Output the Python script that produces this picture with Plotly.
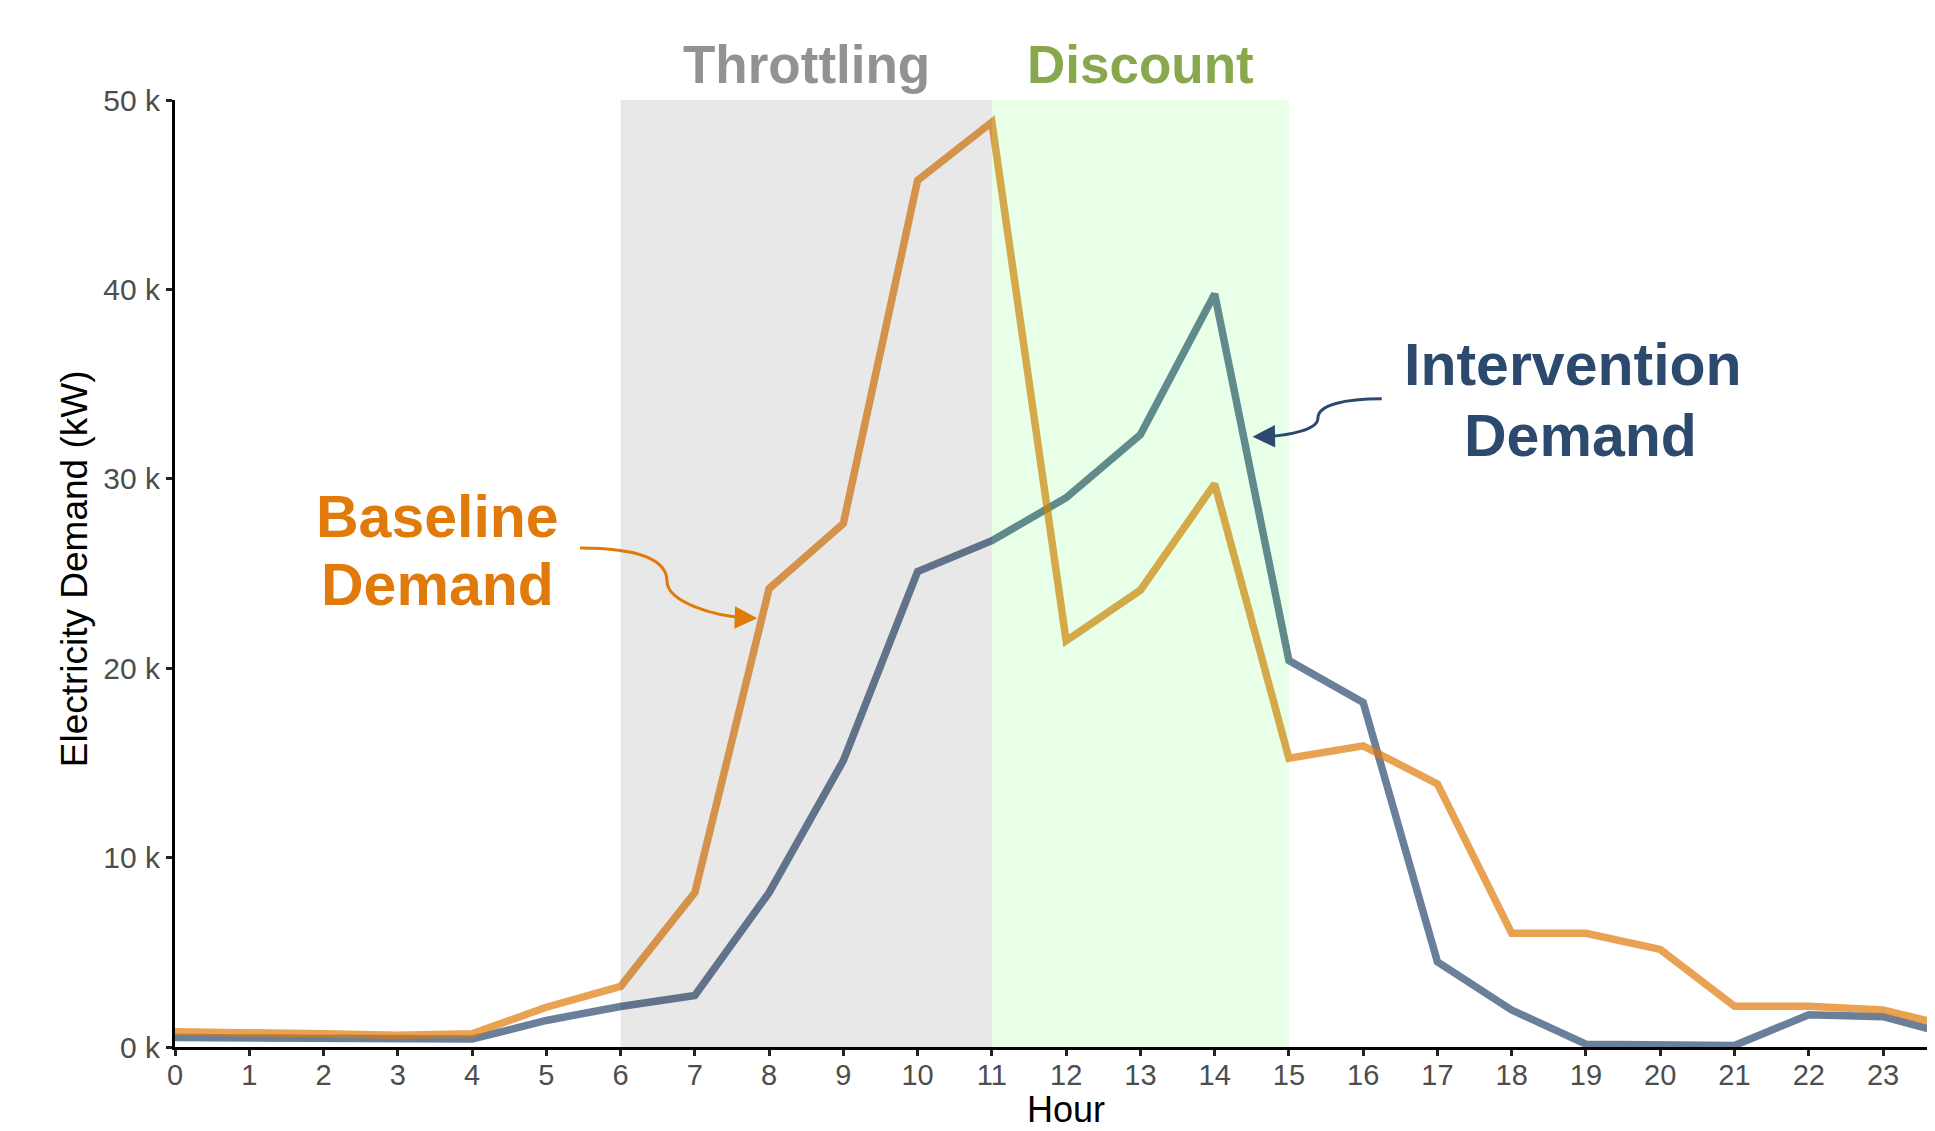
import plotly.graph_objects as go

hours = list(range(25))
baseline = [800, 780, 700, 620, 700, 2100, 3200, 8150, 24200, 27640, 45760, 48830,
            21450, 24120, 29730, 15250, 15900, 13890, 6000, 6000, 5150, 2150, 2150, 1950, 1000]
intervention = [500, 480, 430, 400, 420, 1400, 2140, 2720, 8150, 15120, 25100, 26730,
                29000, 32330, 39760, 20400, 18190, 4500, 1950, 150, 120, 80, 1700, 1600, 550]
ytick_vals = [0, 10000, 20000, 30000, 40000, 50000]
ytick_text = ["0 k", "10 k", "20 k", "30 k", "40 k", "50 k"]
xtick_vals = list(range(24))
periods = [("Throttling", 6, 11), ("Discount", 11, 15)]

ORANGE = "#E07A0A"
NAVY = "#2C4A6E"
FONT = "Liberation Sans"

fig = go.Figure()
fig.add_trace(go.Scatter(x=hours, y=intervention, mode="lines",
                         line=dict(color=NAVY, width=7.5), opacity=0.7,
                         showlegend=False, hoverinfo="skip"))
fig.add_trace(go.Scatter(x=hours, y=baseline, mode="lines",
                         line=dict(color=ORANGE, width=7.5), opacity=0.7,
                         showlegend=False, hoverinfo="skip"))

# shaded periods drawn above lines
fig.add_shape(type="rect", xref="x", yref="y", x0=periods[0][1], x1=periods[0][2],
              y0=0, y1=50000, fillcolor="black", opacity=0.09, line_width=0, layer="above")
fig.add_shape(type="rect", xref="x", yref="y", x0=periods[1][1], x1=periods[1][2],
              y0=0, y1=50000, fillcolor="rgb(0,255,0)", opacity=0.09, line_width=0, layer="above")

# period labels
fig.add_annotation(text="<b>" + periods[0][0] + "</b>", x=(periods[0][1] + periods[0][2]) / 2, y=1.038,
                   xref="x", yref="paper", showarrow=False, yanchor="middle",
                   font=dict(family=FONT, size=53, color="#929292"))
fig.add_annotation(text="<b>" + periods[1][0] + "</b>", x=(periods[1][1] + periods[1][2]) / 2, y=1.038,
                   xref="x", yref="paper", showarrow=False, yanchor="middle",
                   font=dict(family=FONT, size=53, color="#88A84E"))

# series labels
for txt, yy in [("Baseline", 28000), ("Demand", 24400)]:
    fig.add_annotation(text=f"<b>{txt}</b>", x=3.54, y=yy, xref="x", yref="y",
                       showarrow=False, yanchor="middle",
                       font=dict(family=FONT, size=59, color=ORANGE))
for txt, xx, yy in [("Intervention", 18.83, 36000), ("Demand", 18.93, 32280)]:
    fig.add_annotation(text=f"<b>{txt}</b>", x=xx, y=yy, xref="x", yref="y",
                       showarrow=False, yanchor="middle",
                       font=dict(family=FONT, size=59, color=NAVY))

# curved arrows
fig.add_shape(type="path", xref="x", yref="y",
              path="M 5.454,26350 C 6.25,26350 6.625,25700 6.625,24600 "
                   "C 6.625,23500 7.25,22750 7.70,22660",
              line=dict(color=ORANGE, width=3), layer="above")
fig.add_annotation(x=7.84, y=22640, ax=7.55, ay=22680, xref="x", yref="y",
                   axref="x", ayref="y", text="", showarrow=True,
                   arrowhead=2, arrowsize=1.5, arrowwidth=3, arrowcolor=ORANGE)

fig.add_shape(type="path", xref="x", yref="y",
              path="M 16.25,34220 C 15.75,34220 15.39,33900 15.39,33200 "
                   "C 15.39,32600 15.0,32260 14.65,32230",
              line=dict(color=NAVY, width=3), layer="above")
fig.add_annotation(x=14.51, y=32220, ax=14.80, ay=32240, xref="x", yref="y",
                   axref="x", ayref="y", text="", showarrow=True,
                   arrowhead=2, arrowsize=1.5, arrowwidth=3, arrowcolor=NAVY)

# axis titles
fig.add_annotation(text="Hour", x=12.0, y=-0.066, xref="x", yref="paper",
                   showarrow=False, yanchor="middle",
                   font=dict(family=FONT, size=36, color="black"))
fig.add_annotation(text="Electricity Demand (kW)", x=-0.0574, y=0.5055, xref="paper", yref="paper",
                   showarrow=False, textangle=-90, xanchor="center", yanchor="middle",
                   font=dict(family=FONT, size=37, color="black"))

fig.update_xaxes(range=[0, 23.7], tickvals=xtick_vals, ticktext=[str(v) for v in xtick_vals],
                 showgrid=False, zeroline=False, showline=True, linecolor="black", linewidth=3,
                 ticks="outside", ticklen=6, tickwidth=2.5, tickcolor="#222",
                 ticklabelstandoff=-6,
                 tickfont=dict(family=FONT, size=29, color="#4D4D4D"))
fig.update_yaxes(range=[0, 50000], tickvals=ytick_vals, ticktext=ytick_text,
                 showgrid=False, zeroline=False, showline=True, linecolor="black", linewidth=3,
                 ticks="outside", ticklen=6, tickwidth=2.5, tickcolor="#222",
                 tickfont=dict(family=FONT, size=30, color="#4D4D4D"))

fig.update_layout(width=1927, height=1123, plot_bgcolor="white", paper_bgcolor="white",
                  margin=dict(l=167, r=0, t=92, b=84, pad=0))

fig.write_html("out.html")
